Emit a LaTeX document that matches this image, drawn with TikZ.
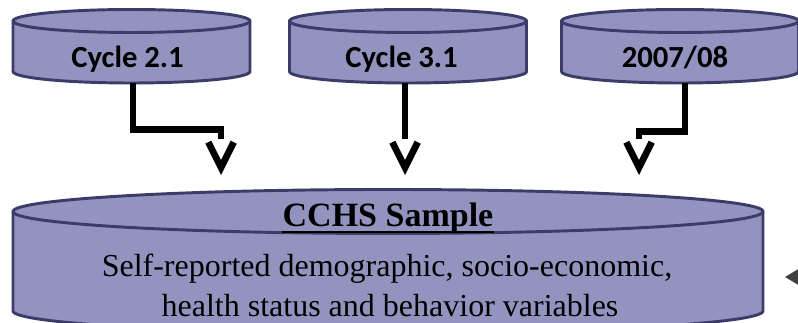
\documentclass[tikz,border=0pt]{standalone}
\usepackage{fontspec}
\setmainfont{Liberation Serif}
\newfontfamily\calibrifont{Carlito}
\usetikzlibrary{arrows.meta}
\definecolor{cylfill}{HTML}{9393BF}
\definecolor{cyledge}{HTML}{3B3D68}
\definecolor{tipgray}{HTML}{404040}
\begin{document}
\begin{tikzpicture}[x=0.75pt,y=0.75pt,
  cylbody/.style={fill=cylfill,draw=cyledge,line width=2.2pt},
  cylrim/.style={draw=cyledge,line width=2.2pt},
  cylarea/.style={inner sep=0pt,minimum width=177.75pt,minimum height=54.75pt},
  smalllabel/.style={font=\calibrifont\bfseries\fontsize{23}{28}\selectfont,inner sep=0pt,anchor=base},
  titlelabel/.style={font=\bfseries\fontsize{25.5}{30}\selectfont,inner sep=0pt,anchor=base},
  bodylabel/.style={font=\fontsize{24}{30}\selectfont,inner sep=0pt,anchor=base},
  conn/.style={line width=5pt,-{. Straight Barb[length=19pt,width=19pt]}}]
\useasboundingbox (0,0) rectangle (798,323);

% small cylinders
\foreach \cx in {131.5,408,680}{
  \path[cylbody] (\cx-118.5,302) -- (\cx-118.5,251.5)
     arc[start angle=180,end angle=360,x radius=118.5,y radius=11.5]
     -- (\cx+118.5,302)
     arc[start angle=0,end angle=180,x radius=118.5,y radius=11.5] -- cycle;
  \draw[cylrim] (\cx-118.5,302) arc[start angle=180,end angle=360,x radius=118.5,y radius=11.5];
}
\node[cylarea] (c1) at (131.5,276.5) {};
\node[cylarea] (c2) at (408,276.5) {};
\node[cylarea] (c3) at (680,276.5) {};
\node[smalllabel] (l1) at (127.5,255) {Cycle 2.1};
\node[smalllabel] (l2) at (401.5,255) {Cycle 3.1};
\node[smalllabel] (l3) at (675,255) {2007/08};

% big cylinder
\path[cylbody] (13,111.5) -- (13,12)
   arc[start angle=180,end angle=360,x radius=375,y radius=22]
   -- (763,111.5)
   arc[start angle=0,end angle=180,x radius=375,y radius=22] -- cycle;
\draw[cylrim] (13,111.5) arc[start angle=180,end angle=360,x radius=375,y radius=22];
\node[titlelabel] (title) at (388,96) {CCHS Sample};
\draw[line width=1.5pt] ([yshift=-3.75pt]title.base west) -- ([yshift=-3.75pt]title.base east);
\node[bodylabel] (d1) at (387,46) {Self-reported demographic, socio-economic,};
\node[bodylabel] (d2) at (390,6) {health status and behavior variables};

% connectors
\coordinate (t1) at (221,148);
\coordinate (t2) at (405,148);
\coordinate (t3) at (639,148);
\draw[conn] ([xshift=1.1pt]c1.south) -- ++(0,-46) -| (t1);
\draw[conn] ([xshift=-2.25pt]c2.south) -- (t2);
\draw[conn] ([xshift=3.75pt]c3.south) -- ++(0,-48) -| (t3);

% partial arrowhead at right edge
\fill[tipgray] (785,46) -- (800,55) -- (800,37) -- cycle;
\end{tikzpicture}
\end{document}
